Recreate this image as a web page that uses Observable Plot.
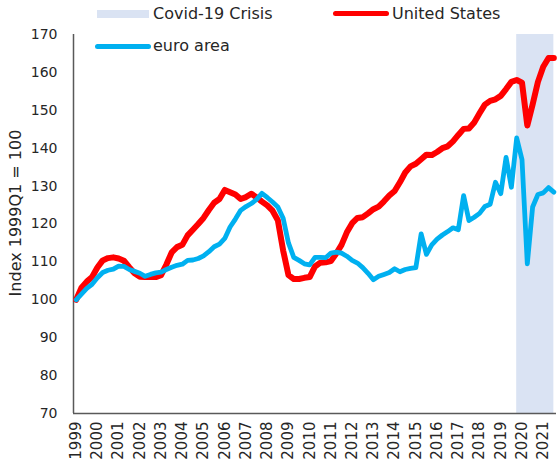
<!DOCTYPE html>
<html>
<head>
<meta charset="utf-8">
<script src="https://cdn.jsdelivr.net/npm/d3@7"></script>
<script src="https://cdn.jsdelivr.net/npm/@observablehq/plot@0.6"></script>
<style>
  body { margin: 0; background: #fff; }
  #wrap { position: relative; width: 558px; height: 466px; font-family: "DejaVu Sans", Verdana, sans-serif; color: #262626; }
  .lg { position: absolute; font-size: 16px; line-height: 1; white-space: nowrap; }
  .sw { position: absolute; }
  #ytitle { position: absolute; left: 15px; top: 213px; transform: translate(-50%, -50%) rotate(-90deg); font-size: 16px; white-space: nowrap; }
</style>
</head>
<body>
<div id="wrap">
  <div id="chart"></div>
  <div class="sw" style="left:97px;top:10px;width:52px;height:8px;background:#dae3f3;"></div>
  <div class="lg" style="left:153px;top:6px;">Covid-19 Crisis</div>
  <div class="sw" style="left:333px;top:11px;width:56px;height:5px;border-radius:3px;background:#ff0000;"></div>
  <div class="lg" style="left:392px;top:6px;">United States</div>
  <div class="sw" style="left:95px;top:44px;width:56px;height:5px;border-radius:3px;background:#00b0f0;"></div>
  <div class="lg" style="left:153px;top:38px;">euro area</div>
  <div id="ytitle">Index 1999Q1 = 100</div>
</div>
<script>
// Quarterly data, 1999Q1 .. 2021Q3
const firstYear = 1999;
const years = [1999,2000,2001,2002,2003,2004,2005,2006,2007,2008,2009,2010,2011,2012,2013,2014,2015,2016,2017,2018,2019,2020,2021];
const unitedStates = [
  100,103.2,104.8,106,108.5,110.4,111,111.2,110.9,110.3,108.6,107,
  106.1,106,106,106,106.5,109.3,112.5,113.9,114.5,117,118.5,120,
  121.6,123.7,125.6,126.6,129,128.4,127.8,126.6,127.1,128,127,125.9,
  124.9,123.5,121,113,106.5,105.5,105.5,105.8,106,108.8,109.8,109.9,
  110.2,112.2,114.5,117.8,120.2,121.6,121.8,122.8,123.9,124.6,126,127.5,
  128.7,131,133.6,135.2,135.9,137.1,138.3,138.2,139,140,140.5,141.8,
  143.5,145.1,145.2,146.8,149.2,151.5,152.5,152.9,153.8,155.6,157.5,158,
  157.3,146,151.5,157.5,161.5,163.8,163.8
];
const euroArea = [
  100,101.5,103,104.1,105.8,107.2,107.8,108.1,108.9,108.8,108,107.5,
  107,106.2,106.7,107.1,107.3,108,108.6,109.1,109.4,110.4,110.5,110.9,
  111.6,112.7,114,114.7,116.2,119.2,121.3,123.6,124.6,125.4,126.5,128.1,
  127,125.8,124.5,121.5,115,111.2,110.4,109.5,109.2,111.2,111.2,111.1,
  112.3,112.6,112.3,111.5,110.4,109.7,108.5,107,105.3,106.2,106.7,107.2,
  108.2,107.4,108,108.3,108.5,117.4,112,114.5,116,117.1,118,119,
  118.5,127.5,120.9,121.8,122.8,124.6,125.2,131,128,137.6,129.7,142.7,
  137,109.5,124.5,127.8,128.2,129.6,128.4
];
// Shaded area drawn like an area series from 2019Q4 to the last quarter
const covidPeriod = ["2019Q4", "2021Q3"];
const yTicks = [70,80,90,100,110,120,130,140,150,160,170];

const qIndex = s => (+s.slice(0,4) - firstYear) * 4 + (+s.slice(5) - 1);
const nQ = unitedStates.length;
const rows = unitedStates.map((v, i) => ({i, us: v, ea: euroArea[i]}));
const covid = [{x1: qIndex(covidPeriod[0]), x2: qIndex(covidPeriod[1])}];

const chart = Plot.plot({
  width: 558,
  height: 466,
  marginLeft: 73,
  marginRight: 2,
  marginTop: 34,
  marginBottom: 53,
  style: {fontFamily: "DejaVu Sans, Verdana, sans-serif", fontSize: "14px", color: "#262626", background: "transparent", overflow: "visible"},
  x: {domain: [-0.5, nQ - 0.5], label: null},
  y: {domain: [yTicks[0], yTicks[yTicks.length - 1]], label: null},
  marks: [
    Plot.rect(covid, {x1: "x1", x2: "x2", y1: yTicks[0], y2: yTicks[yTicks.length - 1], fill: "#dae3f3"}),
    Plot.axisY({ticks: yTicks, tickSize: 0, tickPadding: 16, label: null, fontSize: 14}),
    Plot.axisX({ticks: years.map(y => (y - firstYear) * 4), tickFormat: i => String(firstYear + i / 4), tickRotate: -90, tickSize: 0, tickPadding: 8, label: null, fontSize: 15}),
    Plot.ruleX([-0.5], {stroke: "#595959", strokeWidth: 1.5}),
    Plot.ruleY([yTicks[0]], {stroke: "#595959", strokeWidth: 1.5}),
    Plot.lineY(rows, {x: "i", y: "us", stroke: "#ff0000", strokeWidth: 6, strokeLinejoin: "round", strokeLinecap: "round"}),
    Plot.lineY(rows, {x: "i", y: "ea", stroke: "#00b0f0", strokeWidth: 4.8, strokeLinejoin: "round", strokeLinecap: "round"})
  ]
});
document.getElementById("chart").appendChild(chart);
</script>
</body>
</html>
